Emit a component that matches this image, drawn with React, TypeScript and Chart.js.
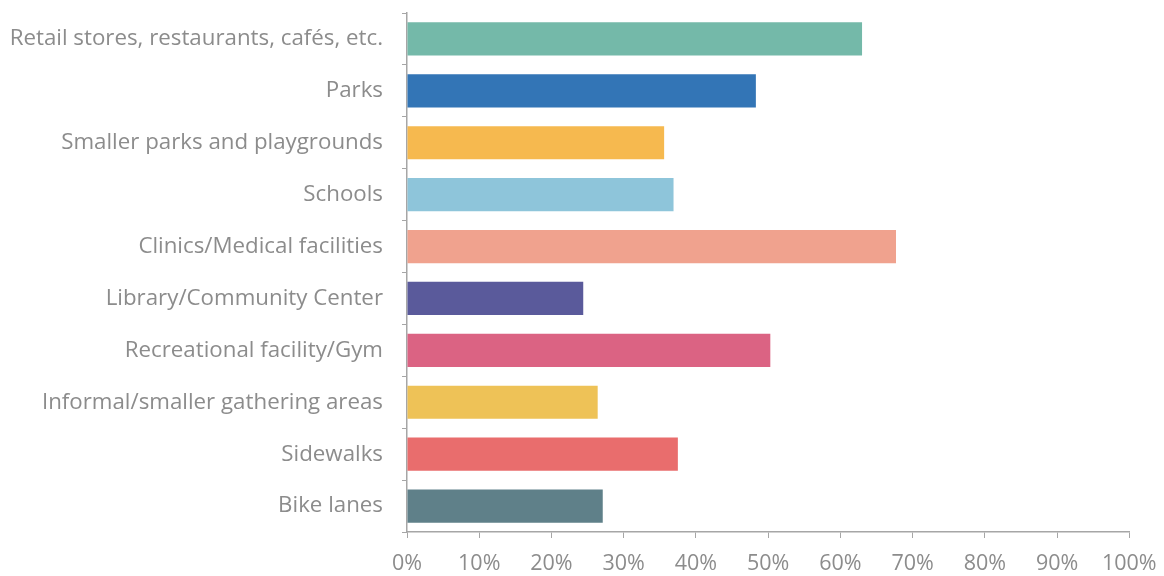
import React, { useEffect, useRef } from "react";
import { Chart, registerables } from "chart.js";

Chart.register(...registerables);

const categories = [
  "Retail stores, restaurants, cafés, etc.",
  "Parks",
  "Smaller parks and playgrounds",
  "Schools",
  "Clinics/Medical facilities",
  "Library/Community Center",
  "Recreational facility/Gym",
  "Informal/smaller gathering areas",
  "Sidewalks",
  "Bike lanes",
];

const values = [63.0, 48.3, 35.6, 36.9, 67.7, 24.4, 50.3, 26.4, 37.5, 27.1];

const barColors = [
  "#74B9A9",
  "#3375B6",
  "#F6B94F",
  "#8EC5DA",
  "#F0A28E",
  "#5A5A9B",
  "#DB6383",
  "#EEC257",
  "#E96D6D",
  "#5F8089",
];

const xTickValues = [0, 10, 20, 30, 40, 50, 60, 70, 80, 90, 100];

export default function App() {
  const canvasRef = useRef<HTMLCanvasElement | null>(null);

  useEffect(() => {
    const canvas = canvasRef.current;
    if (!canvas) return;
    const chart = new Chart(canvas, {
      type: "bar",
      data: {
        labels: categories,
        datasets: [
          {
            data: values,
            backgroundColor: barColors,
            borderWidth: 0,
            barPercentage: 0.64,
            categoryPercentage: 1,
          },
        ],
      },
      options: {
        indexAxis: "y",
        animation: false,
        responsive: false,
        maintainAspectRatio: false,
        layout: { padding: { top: 13, right: 34.7, bottom: 0, left: 0 } },
        plugins: {
          legend: { display: false },
          tooltip: { enabled: false },
        },
        scales: {
          x: {
            min: 0,
            max: 100,
            afterBuildTicks: (scale: any) => {
              scale.ticks = xTickValues.map((v) => ({ value: v }));
            },
            afterFit: (scale: any) => {
              scale.height = 44;
              scale.paddingLeft = 0;
              scale.paddingRight = 0;
            },
            ticks: {
              callback: (v: any) => v + "%",
              color: "#8c8c8c",
              font: { family: "Open Sans", size: 21.5 },
              padding: 13,
              maxRotation: 0,
              autoSkip: false,
            },
            grid: {
              drawOnChartArea: false,
              drawTicks: true,
              tickLength: 6,
              color: "#a6a6a6",
            },
            border: { display: true, color: "#a6a6a6", width: 1.5 },
          },
          y: {
            offset: true,
            afterFit: (scale: any) => {
              scale.width = 407;
              scale.paddingTop = 0;
              scale.paddingBottom = 0;
            },
            ticks: {
              color: "#8c8c8c",
              font: { family: "Open Sans", size: 22.3 },
              padding: 19,
              autoSkip: false,
            },
            grid: {
              offset: true,
              drawOnChartArea: false,
              drawTicks: true,
              tickLength: 5,
              color: "#a6a6a6",
            },
            border: { display: true, color: "#a6a6a6", width: 1.5 },
          },
        },
      },
    });
    return () => chart.destroy();
  }, []);

  return (
    <div
      style={{
        position: "fixed",
        left: 0,
        top: 0,
        width: 1164,
        height: 576,
        background: "#ffffff",
      }}
    >
      <canvas ref={canvasRef} width={1164} height={576} />
    </div>
  );
}
